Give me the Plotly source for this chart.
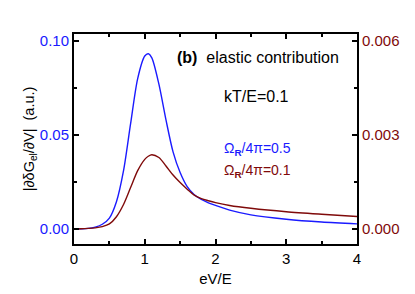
import plotly.graph_objects as go

x_vals = [0, 0.1, 0.2, 0.3, 0.4, 0.5, 0.6, 0.7, 0.8, 0.9, 1.0, 1.05, 1.1, 1.2, 1.3, 1.4,
          1.5, 1.6, 1.7, 1.8, 1.9, 2.0, 2.2, 2.5, 3.0, 3.5, 4.0]
blue_vals = [0, 0.0001, 0.0003, 0.001, 0.0025, 0.0058, 0.0145, 0.031, 0.056, 0.080, 0.092, 0.0932,
             0.091, 0.077, 0.058, 0.041, 0.030, 0.0225, 0.0182, 0.0157, 0.0139, 0.0125, 0.0100,
             0.0075, 0.0052, 0.0037, 0.0027]
red_vals = [0, 0.000006, 0.000018, 0.000036, 0.000075, 0.00016, 0.00039, 0.00078, 0.00132, 0.00186,
            0.00222, 0.00232, 0.00237, 0.00228, 0.00201, 0.00172, 0.00148, 0.00127, 0.00108,
            0.00097, 0.00090, 0.00084, 0.00075, 0.00066, 0.00055, 0.00047, 0.0004]

BLUE = "#1a1aff"
RED = "#7f0a0a"
FONT = "Liberation Sans, Arial, sans-serif"

fig = go.Figure()
fig.add_trace(go.Scatter(x=x_vals, y=blue_vals, mode="lines",
                         line=dict(color=BLUE, width=1.4, shape="spline", smoothing=0.8),
                         yaxis="y", showlegend=False))
fig.add_trace(go.Scatter(x=x_vals, y=red_vals, mode="lines",
                         line=dict(color=RED, width=1.4, shape="spline", smoothing=0.8),
                         yaxis="y2", showlegend=False))

axis_common = dict(showline=True, linecolor="black", linewidth=2, ticks="inside", ticklen=5,
                   tickwidth=1.5, tickcolor="black", showgrid=False, zeroline=False,
                   automargin=False)

fig.update_layout(
    width=415, height=294,
    margin=dict(l=66, r=66, t=26, b=58),
    plot_bgcolor="white", paper_bgcolor="white",
    font=dict(family=FONT, size=14, color="black"),
    xaxis=dict(range=[0, 4], tickvals=[0, 1, 2, 3, 4], mirror="ticks",
               minor=dict(ticks="inside", ticklen=3, tickwidth=1.5, tickcolor="black", dtick=0.5),
               title=dict(text="eV/E", standoff=7, font=dict(size=15)), tickfont=dict(size=15),
               **axis_common),
    yaxis=dict(range=[-0.008, 0.1037], tickvals=[0, 0.05, 0.10], ticktext=["0.00", "0.05", "0.10"],
               tickfont=dict(color=BLUE, size=15),
               minor=dict(ticks="inside", ticklen=3, tickwidth=1.5, tickcolor="black", dtick=0.025),
               title=dict(text="|∂δG<sub>el</sub>/∂V|  (a.u.)", font=dict(size=14.5), standoff=2),
               **axis_common),
    yaxis2=dict(range=[-0.00048, 0.006222], overlaying="y", side="right",
                tickvals=[0, 0.003, 0.006], ticktext=["0.000", "0.003", "0.006"],
                tickfont=dict(color=RED, size=15),
                minor=dict(ticks="inside", ticklen=3, tickwidth=1.5, tickcolor="black", dtick=0.0015),
                **axis_common),
)

fig.add_annotation(x=1.43, y=0.091, xref="x", yref="y", text="<b>(b)</b>  elastic contribution",
                   showarrow=False, xanchor="left", font=dict(size=16, color="black"))
fig.add_annotation(x=2.58, y=0.0702, xref="x", yref="y", text="kT/E=0.1",
                   showarrow=False, xanchor="center", font=dict(size=16, color="black"))
fig.add_annotation(x=2.09, y=0.0425, xref="x", yref="y", text="Ω<sub><b>R</b></sub>/4π=0.5",
                   showarrow=False, xanchor="left", font=dict(size=14, color=BLUE))
fig.add_annotation(x=2.09, y=0.0308, xref="x", yref="y", text="Ω<sub><b>R</b></sub>/4π=0.1",
                   showarrow=False, xanchor="left", font=dict(size=14, color=RED))

fig.write_html("out.html")
